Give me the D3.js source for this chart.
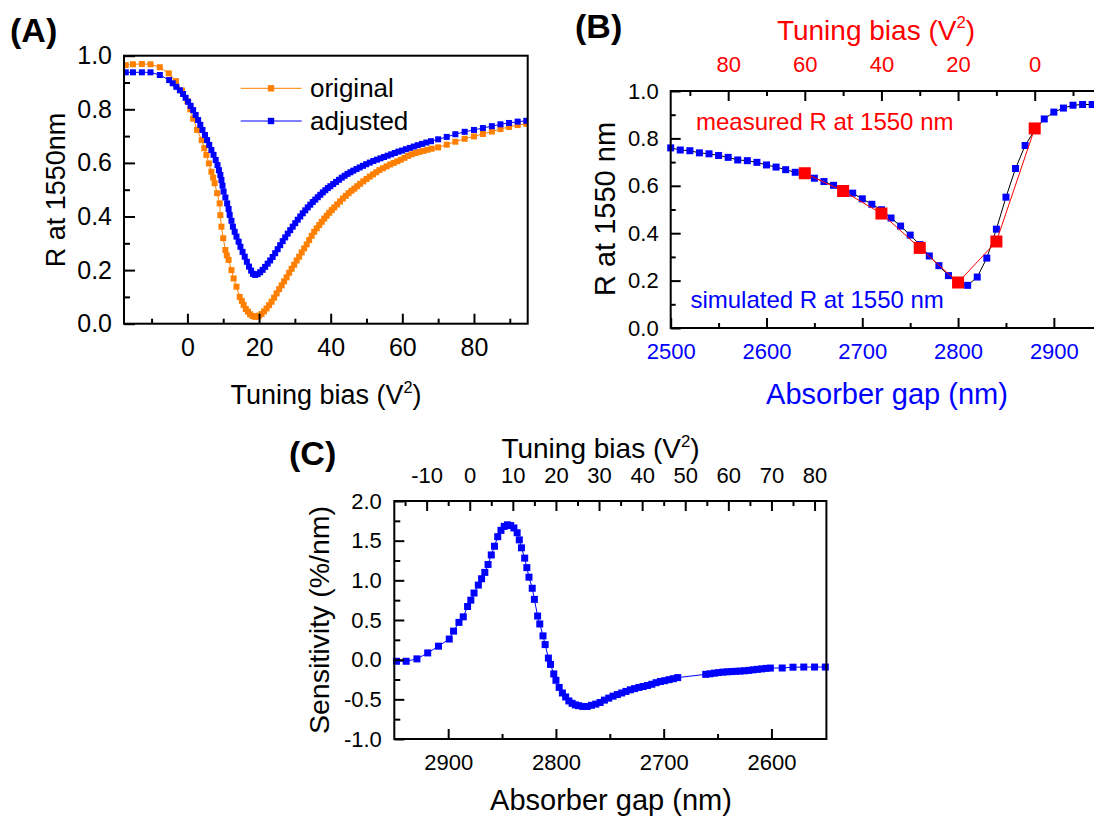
<!DOCTYPE html>
<html><head><meta charset="utf-8">
<script src="https://cdn.jsdelivr.net/npm/d3@7"></script>
<style>body{margin:0;background:#fff}svg{display:block}text{font-family:"Liberation Sans",Arial,sans-serif}</style>
</head><body>
<svg id="chart" width="1094" height="820"></svg>
<script>
// ---------- Panel A data ----------
const aBiasOrig = [-17.2,-15.2,-12.7,-10.3,-7.7,-5.2,-3.2,-1.5,0.0,0.8,1.6,2.7,4.0,4.7,5.3,6.0,6.7,7.2,7.6,8.3,9.0,9.2,9.5,10.0,10.6,11.0,11.5,12.3,12.9,13.7,14.6,15.2,15.7,16.3,16.9,17.5,18.2,18.8,19.3,20.0,20.7,21.4,22.1,22.8,23.5,24.2,24.9,25.6,26.3,27.0,27.7,28.4,29.1,29.8,30.5,31.2,31.9,32.6,33.3,34.0,34.7,35.4,36.1,36.8,37.5,38.2,38.9,39.6,40.3,41.0,41.8,42.6,43.4,44.2,45.0,45.8,46.6,47.4,48.2,49.1,50.0,50.9,51.8,52.7,53.6,54.6,55.6,56.6,57.6,58.6,59.6,60.6,61.6,62.6,63.7,64.8,65.9,67.0,68.2,70.0,72.4,74.8,77.4,80.0,82.5,85.0,87.4,89.8,92.2,94.6];
const aROrig = [.965,.968,.969,.968,.957,.934,.905,.870,.830,.800,.765,.723,.685,.655,.630,.598,.567,.545,.524,.487,.449,.405,.362,.319,.275,.255,.238,.200,.169,.138,.100,.085,.070,.055,.045,.035,.029,.026,.026,.030,.036,.046,.057,.069,.082,.097,.113,.129,.143,.158,.173,.190,.205,.220,.236,.250,.266,.281,.296,.312,.328,.343,.356,.368,.380,.392,.403,.414,.424,.434,.445,.456,.467,.477,.487,.496,.504,.513,.522,.531,.540,.549,.557,.565,.573,.580,.587,.594,.600,.606,.612,.619,.626,.632,.637,.641,.645,.649,.653,.658,.668,.679,.690,.699,.708,.717,.726,.734,.741,.746];
const aBiasAdj = [-17.2,-15.2,-12.7,-10.3,-7.7,-5.1,-4.1,-3.1,-2.1,-1.2,-0.5,0.2,0.9,1.6,2.3,3.0,3.6,4.2,4.9,5.5,6.1,6.7,7.3,7.9,8.4,8.8,9.2,9.5,9.8,10.1,10.6,11.1,11.5,11.8,12.3,12.7,13.2,13.7,14.3,14.8,15.4,16.0,16.6,17.2,17.8,18.3,18.9,19.6,20.3,21.0,21.7,22.4,23.1,23.8,24.5,25.2,25.9,26.6,27.3,28.0,28.7,29.4,30.1,30.8,31.5,32.2,32.9,33.6,34.3,35.0,35.7,36.4,37.1,37.8,38.5,39.2,39.9,40.7,41.5,42.3,43.1,43.9,44.7,45.5,46.3,47.2,48.1,49.0,49.9,50.9,51.9,52.9,53.9,54.9,55.9,56.9,57.9,58.9,59.9,61.0,62.1,63.2,64.3,65.5,66.7,68.0,70.0,72.4,74.8,77.4,80.0,82.5,85.0,87.4,89.8,92.2,94.6];
const aRAdj = [.938,.938,.938,.938,.928,.909,.897,.884,.871,.857,.843,.828,.813,.797,.779,.760,.742,.723,.704,.685,.667,.648,.630,.611,.592,.573,.555,.536,.515,.493,.471,.449,.428,.406,.384,.362,.343,.325,.306,.287,.268,.250,.231,.213,.198,.186,.182,.185,.192,.201,.212,.224,.236,.249,.263,.278,.293,.308,.322,.336,.349,.362,.375,.388,.400,.412,.423,.434,.444,.454,.463,.472,.481,.490,.498,.506,.513,.521,.529,.537,.545,.552,.559,.565,.571,.577,.583,.589,.595,.601,.607,.612,.617,.622,.627,.632,.637,.642,.646,.651,.656,.661,.666,.671,.676,.681,.688,.697,.707,.716,.723,.730,.737,.744,.749,.754,.757];
const aSeriesNames = ["original", "adjusted"];
const aXTicks = [0, 20, 40, 60, 80];
const aYTicks = [0, 0.2, 0.4, 0.6, 0.8, 1.0];

// ---------- Panel B data ----------
const bGapSim = [2500,2510,2520,2530,2540,2550,2560,2570,2580,2590,2600,2610,2620,2630,2640,2650,2660,2670,2680,2690,2700,2710,2720,2730,2740,2750,2760,2770,2780,2790,2800,2810,2820,2830,2840,2850,2860,2870,2880,2890,2900,2910,2920,2930,2940];
const bRSim = [.760,.751,.748,.739,.735,.728,.720,.709,.706,.699,.688,.679,.668,.657,.648,.632,.618,.602,.586,.569,.545,.522,.499,.464,.430,.392,.352,.304,.263,.221,.195,.180,.215,.295,.417,.552,.673,.770,.835,.882,.911,.928,.940,.943,.943];
const bGapMeas = [2640, 2680, 2720, 2760, 2800, 2840, 2880];
const bRMeas = [.653, .578, .483, .338, .192, .365, .842];
const bGapTicks = [2500, 2600, 2700, 2800, 2900];
const bBiasTicks = [0, 20, 40, 60, 80];
const bYTicks = [0, 0.2, 0.4, 0.6, 0.8, 1.0];

// ---------- Panel C data ----------
const cGap = [2948,2939,2929,2919,2909,2899,2895,2890,2886,2882,2879,2876,2872,2869,2866,2863,2860,2857,2854,2851,2848,2845,2842,2839,2836,2834,2832,2829,2827,2825,2822,2820,2817,2815,2812,2810,2807,2805,2802,2800,2797,2794,2791,2788,2785,2782,2779,2775,2771,2767,2763,2759,2755,2751,2747,2743,2739,2735,2731,2727,2723,2719,2715,2711,2707,2703,2699,2695,2691,2687,2661,2657,2653,2649,2645,2641,2637,2633,2629,2625,2621,2617,2613,2609,2605,2601,2590,2580,2570,2560,2550];
const cSens = [-0.02,-0.02,0.01,0.085,0.17,0.26,0.36,0.47,0.54,0.67,0.75,0.84,0.94,1.02,1.10,1.20,1.32,1.43,1.55,1.63,1.68,1.70,1.69,1.66,1.60,1.51,1.41,1.28,1.16,1.04,0.90,0.76,0.55,0.45,0.30,0.19,0.02,-0.06,-0.18,-0.26,-0.35,-0.42,-0.47,-0.52,-0.55,-0.57,-0.58,-0.59,-0.59,-0.575,-0.56,-0.54,-0.51,-0.485,-0.46,-0.44,-0.42,-0.40,-0.38,-0.365,-0.35,-0.338,-0.325,-0.31,-0.29,-0.275,-0.265,-0.252,-0.24,-0.226,-0.185,-0.178,-0.17,-0.163,-0.157,-0.153,-0.15,-0.147,-0.144,-0.14,-0.135,-0.128,-0.122,-0.116,-0.11,-0.106,-0.105,-0.095,-0.093,-0.093,-0.093];
const cGapTicks = [2600, 2700, 2800, 2900];
const cBiasTicks = [-10, 0, 10, 20, 30, 40, 50, 60, 70, 80];
const cYTicks = [-1.0, -0.5, 0.0, 0.5, 1.0, 1.5, 2.0];

// ---------- drawing ----------
const ORANGE = "#ff8000", BLUE = "#0000ff", RED = "#ff0000";
const FONT = '"Liberation Sans",Arial,sans-serif';
const svg = d3.select("#chart");

function drawAxis(g, type, scale, major, minor, fmt, o) {
  const maker = {bottom: d3.axisBottom, top: d3.axisTop, left: d3.axisLeft}[type];
  const ga = g.append("g").attr("transform", o.t);
  ga.call(maker(scale).tickValues(major).tickSizeInner(-o.maj).tickSizeOuter(0).tickPadding(o.pad).tickFormat(fmt));
  const gm = g.append("g").attr("transform", o.t);
  gm.call(maker(scale).tickValues(minor).tickSizeInner(-o.min).tickSizeOuter(0).tickFormat(""));
  [ga, gm].forEach(a => {
    a.select(".domain").remove();
    a.selectAll("line").attr("stroke", "#000").attr("stroke-width", 2);
    a.selectAll("text").attr("font-size", o.fs).attr("fill", o.color || "#000").attr("font-family", FONT);
  });
}

function titleWithSup(g, x, y, fs, color, pre, sup, post, rot) {
  const t = g.append("text").attr("x", x).attr("y", y).attr("font-size", fs)
    .attr("fill", color).attr("text-anchor", "middle");
  if (rot) t.attr("transform", rot);
  t.append("tspan").text(pre);
  if (sup) {
    t.append("tspan").attr("font-size", fs * 0.6).attr("dy", -fs * 0.42).text(sup);
    t.append("tspan").attr("dy", fs * 0.42).text(post);
  }
  return t;
}

function squares(g, xs, ys, sx, sy, size, color) {
  g.append("g").selectAll("rect").data(xs.map((x, i) => [x, ys[i]])).join("rect")
    .attr("x", d => sx(d[0]) - size / 2).attr("y", d => sy(d[1]) - size / 2)
    .attr("width", size).attr("height", size).attr("fill", color);
}
function line(g, xs, ys, sx, sy, color, w) {
  g.append("path").datum(xs.map((x, i) => [x, ys[i]]))
    .attr("d", d3.line().x(d => sx(d[0])).y(d => sy(d[1])))
    .attr("fill", "none").attr("stroke", color).attr("stroke-width", w);
}
const fmt1 = d => d.toFixed(1);
const fmt0 = d => String(d);

// ===== Panel A =====
{
  const L = 124, R = 527.7, T = 55.7, B = 323.7;
  const x = d3.scaleLinear().domain([-17.7, 95]).range([L, R]);
  const y = d3.scaleLinear().domain([0, 1]).range([B, T]);
  const g = svg.append("g");
  const clip = g.append("clipPath").attr("id", "clipA").append("rect").attr("x", L).attr("y", T - 10).attr("width", R - L).attr("height", B - T + 10);
  const pg = g.append("g").attr("clip-path", "url(#clipA)");
  line(pg, aBiasOrig, aROrig, x, y, ORANGE, 1);
  squares(pg, aBiasOrig, aROrig, x, y, 6, ORANGE);
  line(pg, aBiasAdj, aRAdj, x, y, BLUE, 1);
  squares(pg, aBiasAdj, aRAdj, x, y, 6, BLUE);
  drawAxis(g, "bottom", x, aXTicks, [-10, 10, 30, 50, 70, 90], fmt0, {t: `translate(0,${B})`, maj: 10, min: 5, pad: 14.5, fs: 25});
  drawAxis(g, "left", y, aYTicks, [0.1, 0.3, 0.5, 0.7, 0.9], fmt1, {t: `translate(${L},0)`, maj: 11, min: 6, pad: 12, fs: 25});
  g.append("rect").attr("x", L).attr("y", T).attr("width", R - L).attr("height", B - T)
    .attr("fill", "none").attr("stroke", "#000").attr("stroke-width", 2);
  // legend
  const leg = [[aSeriesNames[0], ORANGE, 88.3], [aSeriesNames[1], BLUE, 121]];
  leg.forEach(([name, c, ly]) => {
    g.append("line").attr("x1", 240.7).attr("x2", 301.7).attr("y1", ly).attr("y2", ly).attr("stroke", c).attr("stroke-width", 1);
    g.append("rect").attr("x", 271 - 3.2).attr("y", ly - 3.2).attr("width", 6.4).attr("height", 6.4).attr("fill", c);
    g.append("text").attr("x", 310).attr("y", ly + 9).attr("font-size", 26).text(name);
  });
  titleWithSup(g, 326, 404, 27, "#000", "Tuning bias (V", "2", ")");
  g.append("text").attr("transform", "translate(65,190) rotate(-90)").attr("text-anchor", "middle")
    .attr("font-size", 27).text("R at 1550nm");
  g.append("text").attr("x", 10).attr("y", 42).attr("font-size", 34).attr("font-weight", "bold").text("(A)");
}

// ===== Panel B =====
{
  const L = 670.7, R = 1096, T = 91, B = 328;
  const x = d3.scaleLinear().domain([2500, 2944]).range([L, R]);
  // top axis: tuning bias, gap = 2880 - 4*bias
  const xt = d3.scaleLinear().domain([(2880 - 2500) / 4, (2880 - 2944) / 4]).range([L, R]);
  const y = d3.scaleLinear().domain([0, 1]).range([B, T]);
  const g = svg.append("g");
  line(g, bGapSim, bRSim, x, y, "#000", 1);
  squares(g, bGapSim, bRSim, x, y, 7, BLUE);
  line(g, bGapMeas, bRMeas, x, y, RED, 1);
  squares(g, bGapMeas, bRMeas, x, y, 12, RED);
  drawAxis(g, "bottom", x, bGapTicks, [2550, 2650, 2750, 2850], fmt0, {t: `translate(0,${B})`, maj: 10, min: 5, pad: 15.7, fs: 22, color: BLUE});
  drawAxis(g, "top", xt, bBiasTicks, [-10, 10, 30, 50, 70, 90], fmt0, {t: `translate(0,${T})`, maj: 10, min: 5, pad: 19, fs: 22, color: RED});
  drawAxis(g, "left", y, bYTicks, [0.1, 0.3, 0.5, 0.7, 0.9], fmt1, {t: `translate(${L},0)`, maj: 10, min: 5, pad: 12, fs: 22});
  g.append("rect").attr("x", L).attr("y", T).attr("width", R - L).attr("height", B - T)
    .attr("fill", "none").attr("stroke", "#000").attr("stroke-width", 2);
  g.append("text").attr("x", 696).attr("y", 130).attr("font-size", 24).attr("fill", RED).text("measured R at 1550 nm");
  g.append("text").attr("x", 690.4).attr("y", 308).attr("font-size", 24).attr("fill", BLUE).text("simulated R at 1550 nm");
  titleWithSup(g, 876, 40, 28, RED, "Tuning bias (V", "2", ")");
  g.append("text").attr("x", 887).attr("y", 404).attr("text-anchor", "middle").attr("font-size", 29).attr("fill", BLUE).text("Absorber gap (nm)");
  g.append("text").attr("transform", "translate(614.5,209) rotate(-90)").attr("text-anchor", "middle")
    .attr("font-size", 29).text("R at 1550 nm");
  g.append("text").attr("x", 575).attr("y", 38).attr("font-size", 34).attr("font-weight", "bold").text("(B)");
}

// ===== Panel C =====
{
  const L = 394.3, R = 826.4, T = 501, B = 739;
  const x = d3.scaleLinear().domain([2950, 2549]).range([L, R]);
  const xt = d3.scaleLinear().domain([(2880 - 2950) / 4, (2880 - 2549) / 4]).range([L, R]);
  const y = d3.scaleLinear().domain([-1, 2]).range([B, T]);
  const g = svg.append("g");
  line(g, cGap, cSens, x, y, BLUE, 1);
  squares(g, cGap, cSens, x, y, 7, BLUE);
  drawAxis(g, "bottom", x, cGapTicks, [2650, 2750, 2850], fmt0, {t: `translate(0,${B})`, maj: 10, min: 5, pad: 15.4, fs: 22});
  drawAxis(g, "top", xt, cBiasTicks, [-15, -5, 5, 15, 25, 35, 45, 55, 65, 75], fmt0, {t: `translate(0,${T})`, maj: 10, min: 5, pad: 17.7, fs: 22});
  drawAxis(g, "left", y, cYTicks, [-0.75, -0.25, 0.25, 0.75, 1.25, 1.75], fmt1, {t: `translate(${L},0)`, maj: 10, min: 6, pad: 12.5, fs: 22});
  g.append("rect").attr("x", L).attr("y", T).attr("width", R - L).attr("height", B - T)
    .attr("fill", "none").attr("stroke", "#000").attr("stroke-width", 2);
  titleWithSup(g, 600.5, 458.3, 28, "#000", "Tuning bias (V", "2", ")");
  g.append("text").attr("x", 611).attr("y", 810).attr("text-anchor", "middle").attr("font-size", 29).text("Absorber gap (nm)");
  g.append("text").attr("transform", "translate(329.4,620) rotate(-90)").attr("text-anchor", "middle")
    .attr("font-size", 28.5).text("Sensitivity (%/nm)");
  g.append("text").attr("x", 289).attr("y", 465).attr("font-size", 34).attr("font-weight", "bold").text("(C)");
}
</script>
</body></html>
